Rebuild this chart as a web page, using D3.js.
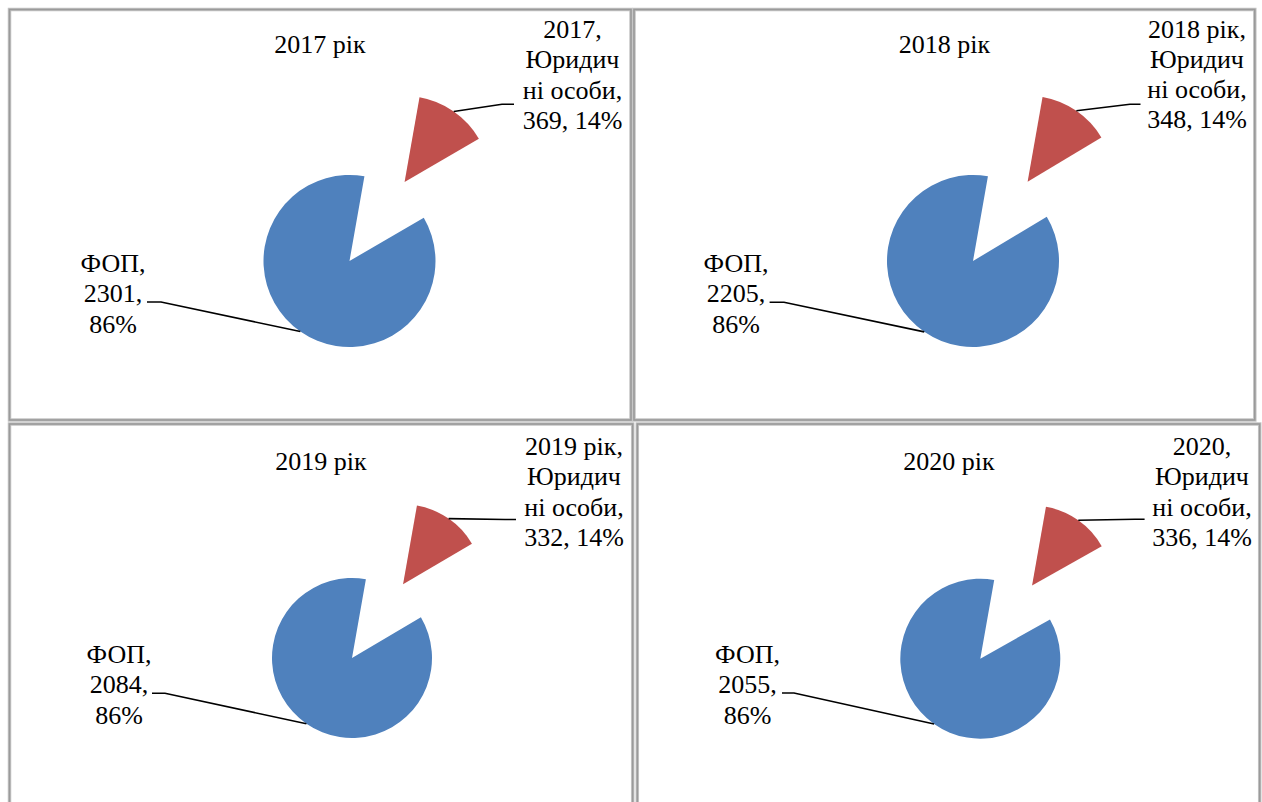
<!DOCTYPE html>
<html lang="uk">
<head>
<meta charset="utf-8">
<script src="https://cdn.jsdelivr.net/npm/d3@7"></script>
<style>
  html, body { margin: 0; padding: 0; background: #ffffff; }
  svg { display: block; }
  text { font-family: "Liberation Serif", "Times New Roman", serif; fill: #000; }
</style>
</head>
<body>
<svg id="chart" width="1262" height="802"></svg>
<script>
// Data: number of business entities by year
const years       = ["2017", "2018", "2019", "2020"];
const titles      = ["2017 рік", "2018 рік", "2019 рік", "2020 рік"];
const seriesNames = ["2017", "2018 рік", "2019 рік", "2020"];
const categories  = ["Юридичні особи", "ФОП"];
const legalValues = [369, 348, 332, 336];   // Юридичні особи
const fopValues   = [2301, 2205, 2084, 2055]; // ФОП

// Wrapped category text as it appears in the data labels
const categoryLines = {
  "Юридичні особи": ["Юридич", "ні особи"],
  "ФОП": ["ФОП"]
};

const colors = { "Юридичні особи": "#C0504D", "ФОП": "#4F81BD" };

// Panel layout (frame, title, pie geometry, label anchors, leader bends)
const panels = [
  { frame: [9.5, 9.5, 631, 420],   title: [320, 53],   center: [349.5, 261], r: 86,
    legalLabel: [572.5, 38], fopLabel: [113, 272],
    legalLeader: [[502, 104.3], [514, 104.3]], fopLeader: [[161, 302], [147, 302]] },
  { frame: [634, 9.5, 1254.8, 420], title: [944.5, 53], center: [973, 261],   r: 86,
    legalLabel: [1197, 37.5], fopLabel: [736, 272],
    legalLeader: [[1130, 104.3], [1140.5, 104.3]], fopLeader: [[784, 302.3], [769.6, 302.3]] },
  { frame: [9.5, 424, 632.7, 840], title: [321, 470],   center: [352, 658],   r: 80,
    legalLabel: [574, 455], fopLabel: [119, 663],
    legalLeader: [[505, 519.5], [516, 519.5]], fopLeader: [[165, 693.3], [152, 693.3]] },
  { frame: [637.3, 424, 1259.7, 840], title: [949, 470], center: [980.3, 658.7], r: 80,
    legalLabel: [1202, 455], fopLabel: [747.5, 663],
    legalLeader: [[1135, 519.3], [1144.6, 519.3]], fopLeader: [[794, 693], [782, 693]] }
];

const fontSize = 26;
const lineHeight = 30.3;
const explodeFactor = 1.12;
const firstSliceAngle = 10 * Math.PI / 180;

const svg = d3.select("#chart");

const pie = d3.pie()
  .sort(null)
  .value(d => d.value)
  .startAngle(firstSliceAngle)
  .endAngle(firstSliceAngle + 2 * Math.PI);

const polar = (a, r) => [r * Math.sin(a), -r * Math.cos(a)];

years.forEach((yr, i) => {
  const P = panels[i];
  const g = svg.append("g");

  // Panel frame
  const [x0, y0, x1, y1] = P.frame;
  g.append("rect")
    .attr("x", x0).attr("y", y0)
    .attr("width", x1 - x0).attr("height", y1 - y0)
    .attr("fill", "none")
    .attr("stroke", "#c4c4c4")
    .attr("stroke-width", 3.5);
  g.append("rect")
    .attr("x", x0).attr("y", y0)
    .attr("width", x1 - x0).attr("height", y1 - y0)
    .attr("fill", "none")
    .attr("stroke", "#9a9a9a")
    .attr("stroke-width", 1.6);

  // Title
  g.append("text")
    .attr("x", P.title[0]).attr("y", P.title[1])
    .attr("text-anchor", "middle")
    .attr("font-size", fontSize)
    .text(titles[i]);

  const values = [legalValues[i], fopValues[i]];
  const total = d3.sum(values);
  const rows = categories.map((c, k) => ({ category: c, value: values[k] }));
  const arcs = pie(rows);

  const arcGen = d3.arc().innerRadius(0).outerRadius(P.r);

  arcs.forEach(a => {
    const mid = (a.startAngle + a.endAngle) / 2;
    const isLegal = a.data.category === "Юридичні особи";
    const off = isLegal ? polar(mid, P.r * explodeFactor) : [0, 0];
    const cx = P.center[0] + off[0];
    const cy = P.center[1] + off[1];

    g.append("path")
      .attr("transform", `translate(${cx},${cy})`)
      .attr("d", arcGen(a))
      .attr("fill", colors[a.data.category]);

    // Leader line from slice edge to label
    const edge = polar(mid, P.r);
    const start = [cx + edge[0], cy + edge[1]];
    const bends = isLegal ? P.legalLeader : P.fopLeader;
    g.append("path")
      .attr("d", d3.line()([start, ...bends]))
      .attr("fill", "none")
      .attr("stroke", "#000")
      .attr("stroke-width", 1.6);

    // Data label
    const pct = Math.round(a.data.value / total * 100);
    let lines;
    if (isLegal) {
      const cl = categoryLines[a.data.category].slice();
      cl[cl.length - 1] += ",";
      lines = [seriesNames[i] + ",", ...cl, `${a.data.value}, ${pct}%`];
    } else {
      const cl = categoryLines[a.data.category].slice();
      cl[cl.length - 1] += ",";
      lines = [...cl, `${a.data.value},`, `${pct}%`];
    }
    const anchor = isLegal ? P.legalLabel : P.fopLabel;
    const t = g.append("text")
      .attr("text-anchor", "middle")
      .attr("font-size", fontSize);
    lines.forEach((ln, k) => {
      t.append("tspan")
        .attr("x", anchor[0])
        .attr("y", anchor[1] + k * lineHeight)
        .text(ln);
    });
  });
});
</script>
</body>
</html>
